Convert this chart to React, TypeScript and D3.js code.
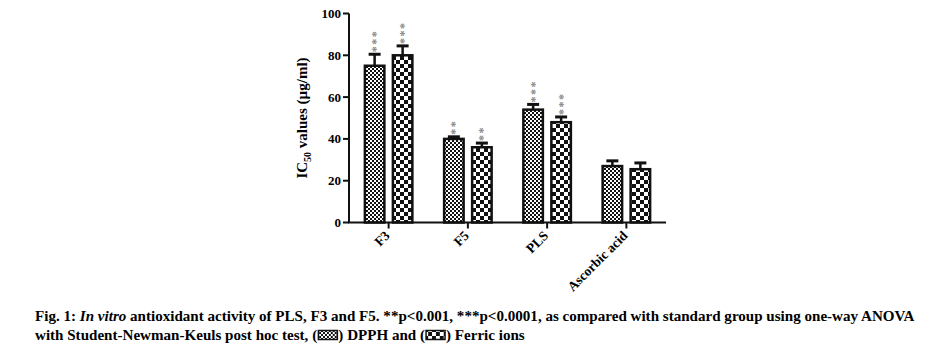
import React, { useLayoutEffect, useRef, useState } from 'react'
import * as d3 from 'd3'

const width = 945
const height = 352

const groups = ['F3', 'F5', 'PLS', 'Ascorbic acid']
const series = ['DPPH', 'Ferric']
const dpphMean = [75, 40, 54, 27]
const dpphErr = [5.5, 1, 2.5, 2.5]
const ferricMean = [80, 36, 48, 25.5]
const ferricErr = [4.5, 2, 2.5, 3]
const dpphStars = ['***', '**', '***', '']
const ferricStars = ['***', '**', '***', '']
const yTicks = [0, 20, 40, 60, 80, 100]

const font = '"Liberation Serif", "Times New Roman", serif'

const x = d3.scaleBand().domain(groups).range([349, 666])
const y = d3.scaleLinear().domain([0, 100]).range([222.5, 13.5])

function Caption() {
    const line1 = useRef<SVGTextElement>(null)
    const seg1 = useRef<SVGTextElement>(null)
    const seg2 = useRef<SVGTextElement>(null)
    const [m, setM] = useState({ sx: 1, a: 280, b: 60 })

    useLayoutEffect(() => {
        if (!line1.current || !seg1.current || !seg2.current) return
        const w = line1.current.getComputedTextLength()
        setM({
            sx: 880 / w,
            a: seg1.current.getComputedTextLength(),
            b: seg2.current.getComputedTextLength(),
        })
    }, [])

    const sw = 19 / m.sx
    const style = { fontFamily: font, fontSize: 15.5, fontWeight: 'bold' as const }
    return (
        <g transform={`translate(35,0) scale(${m.sx},1)`} style={style}>
            <text ref={line1} x={0} y={321}>
                Fig. 1: <tspan fontStyle="italic">In vitro</tspan> antioxidant activity of PLS, F3 and F5. **p&lt;0.001, ***p&lt;0.0001, as compared with standard group using one-way ANOVA
            </text>
            <text ref={seg1} x={0} y={340}>
                with Student-Newman-Keuls post hoc test, (
            </text>
            <rect x={m.a + 1} y={330.5} width={sw} height={9} fill="url(#dpph)" stroke="#111" strokeWidth={1.5} />
            <text ref={seg2} x={m.a + sw + 2} y={340}>
                ) DPPH and (
            </text>
            <rect x={m.a + sw + 2 + m.b + 1} y={330.5} width={sw} height={9} fill="url(#ferric)" stroke="#111" strokeWidth={1.5} />
            <text x={m.a + 2 * sw + m.b + 4} y={340}>
                ) Ferric ions
            </text>
        </g>
    )
}

export default function App() {
    const inner = d3
        .scaleBand()
        .domain(series)
        .range([-25, 25])
        .paddingInner(6 / 28)

    const bars: { key: string; x: number; mean: number; err: number; stars: string; fill: string }[] = []
    groups.forEach((g, i) => {
        const c = (x(g) as number) + x.bandwidth() / 2
        bars.push({ key: g + 'd', x: c + (inner('DPPH') as number), mean: dpphMean[i], err: dpphErr[i], stars: dpphStars[i], fill: 'url(#dpph)' })
        bars.push({ key: g + 'f', x: c + (inner('Ferric') as number), mean: ferricMean[i], err: ferricErr[i], stars: ferricStars[i], fill: 'url(#ferric)' })
    })
    const bw = inner.bandwidth()

    return (
        <div style={{ position: 'absolute', left: 0, top: 0 }}>
            <svg width={width} height={height} style={{ display: 'block', background: '#fff' }}>
                <defs>
                    <pattern id="dpph" patternUnits="userSpaceOnUse" width={4} height={4}>
                        <rect width={4} height={4} fill="#fff" />
                        <rect width={2} height={2} fill="#111" />
                        <rect x={2} y={2} width={2} height={2} fill="#111" />
                    </pattern>
                    <pattern id="ferric" patternUnits="userSpaceOnUse" width={8} height={8}>
                        <rect width={8} height={8} fill="#fff" />
                        <rect width={4} height={4} fill="#111" />
                        <rect x={4} y={4} width={4} height={4} fill="#111" />
                    </pattern>
                </defs>

                {/* bars + error bars */}
                {bars.map((b) => {
                    const top = y(b.mean)
                    const et = y(b.mean + b.err)
                    const cx = b.x + bw / 2
                    return (
                        <g key={b.key}>
                            <line x1={cx} x2={cx} y1={top} y2={et} stroke="#111" strokeWidth={2.5} />
                            <line x1={cx - 6} x2={cx + 6} y1={et} y2={et} stroke="#111" strokeWidth={3} />
                            <rect x={b.x + 1.25} y={top} width={bw - 2.5} height={y(0) - top} fill={b.fill} stroke="#111" strokeWidth={2.5} />
                            {b.stars && (
                                <text
                                    transform={`translate(${cx + 5.5},${et - 2}) rotate(-90)`}
                                    fill="#8a8a8a"
                                    letterSpacing={1.5}
                                    style={{ fontFamily: font, fontSize: 12, fontWeight: 'bold' }}
                                >
                                    {b.stars}
                                </text>
                            )}
                        </g>
                    )
                })}

                {/* y axis */}
                <line x1={349} x2={349} y1={y(100)} y2={y(0)} stroke="#111" strokeWidth={2} />
                {yTicks.map((t) => (
                    <g key={t} transform={`translate(0,${y(t)})`}>
                        <line x1={343} x2={349} stroke="#111" strokeWidth={2} />
                        <text x={341} dy="0.35em" textAnchor="end" style={{ fontFamily: font, fontSize: 13, fontWeight: 'bold' }}>
                            {t}
                        </text>
                    </g>
                ))}
                <text
                    transform={`translate(307,${(y(0) + y(100)) / 2}) rotate(-90)`}
                    textAnchor="middle"
                    style={{ fontFamily: font, fontSize: 15, fontWeight: 'bold' }}
                >
                    IC<tspan fontSize={10} dy={4}>50</tspan>
                    <tspan dy={-4}> values (µg/ml)</tspan>
                </text>

                {/* x axis */}
                <line x1={348} x2={666} y1={y(0)} y2={y(0)} stroke="#111" strokeWidth={2} />
                {groups.map((g) => {
                    const c = (x(g) as number) + x.bandwidth() / 2
                    return (
                        <g key={g}>
                            <line x1={c} x2={c} y1={y(0)} y2={y(0) + 6} stroke="#111" strokeWidth={2} />
                            <text
                                transform={`translate(${c + 2},${y(0) + 14}) rotate(-45)`}
                                textAnchor="end"
                                style={{ fontFamily: font, fontSize: 13.5, fontWeight: 'bold' }}
                            >
                                {g}
                            </text>
                        </g>
                    )
                })}

                <Caption />
            </svg>
        </div>
    )
}
